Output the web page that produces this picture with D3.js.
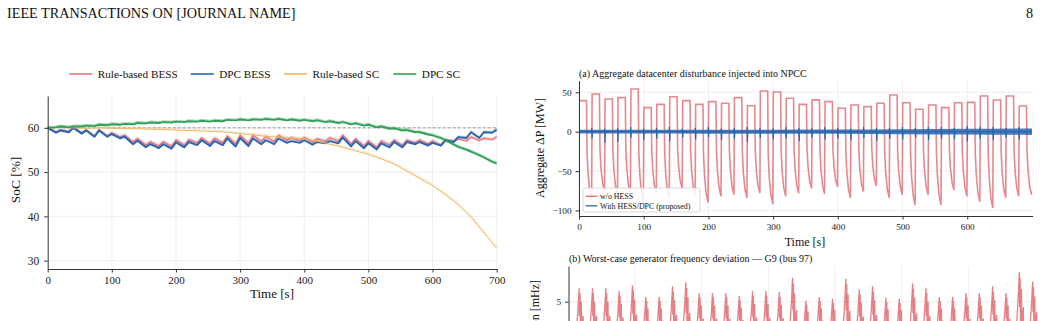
<!DOCTYPE html>
<html>
<head>
<meta charset="utf-8">
<script src="https://cdn.jsdelivr.net/npm/d3@7"></script>
<style>
body { margin: 0; background: #fff; }
svg { display: block; font-family: "Liberation Serif", "Times New Roman", serif; }
.grid line { stroke: #ebebeb; stroke-width: 0.8; }
.axis path, .axis line { stroke: #333; stroke-width: 1; }
.axis text { fill: #222; font-family: "Liberation Serif", "Times New Roman", serif; }
</style>
</head>
<body>
<svg id="fig" width="1041" height="321"></svg>
<script>
// ---------- left panel: SoC of the storage units ----------
const socNames = ["Rule-based BESS", "DPC BESS", "Rule-based SC", "DPC SC"];
const socColors = ["#e8777d", "#2a66b0", "#f2b55a", "#2fa257"];
const socTicksX = [0, 100, 200, 300, 400, 500, 600, 700];
const socTicksY = [30, 40, 50, 60];

// values at the start of each 20 s cycle (t = 0,20,...,700) and at its low point (t = 13,33,...,693)
const ruleBessPeak = [60, 59.4, 60, 59.4, 59.4, 58.8, 58.3, 57.5, 56.8, 56.8, 57.2, 57.3, 57.7, 57.6, 58.1, 58.3, 58.3, 58.0,
  58.3, 57.7, 57.8, 57.5, 57.7, 58.3, 57.5, 57.0, 57.0, 57.2, 57.2, 57.2, 57.0, 57.0, 57.5, 57.9, 57.6, 57.9];
const ruleBessLow = [58.9, 59.0, 58.7, 58.0, 58.1, 57.9, 56.8, 56.1, 55.9, 55.8, 56.1, 56.6, 56.4, 56.6, 56.4, 56.5, 56.9, 56.9,
  57.2, 57.1, 56.8, 57.0, 57.0, 56.3, 55.9, 55.6, 56.1, 56.0, 56.6, 56.3, 56.0, 56.9, 57.0, 57.1, 57.3];
const dpcBessPeak = [60, 59.4, 60, 59.4, 59.4, 58.6, 58.0, 57.1, 56.3, 56.3, 56.7, 56.8, 57.2, 57.0, 57.6, 57.7, 57.6, 57.2,
  57.6, 57.0, 57.2, 56.8, 57.0, 57.8, 57.0, 56.5, 56.5, 56.8, 56.8, 56.8, 56.6, 57.2, 57.9, 59.0, 59.0, 59.6];
const dpcBessLow = [58.9, 59.0, 58.7, 58.0, 58.0, 57.6, 56.3, 55.6, 55.4, 55.3, 55.6, 56.1, 55.9, 56.1, 55.8, 55.9, 56.3, 56.3,
  56.6, 56.6, 56.2, 56.5, 56.5, 55.8, 55.4, 55.1, 55.6, 55.6, 56.3, 56.0, 56.0, 56.8, 57.7, 57.7, 58.9];
const ruleScPeak = [60.0, 60.1, 60.0, 59.9, 60.0, 59.9, 59.8, 59.8, 59.7, 59.6, 59.5, 59.4, 59.3, 59.2, 59.0, 58.7, 58.4, 58.1,
  57.9, 57.7, 57.5, 57.0, 56.3, 55.6, 54.8, 54.0, 53.0, 51.8, 50.2, 48.6, 46.9, 44.9, 42.6, 39.8, 36.3, 32.8];
const dpcScPeak = [60.0, 60.3, 60.3, 60.5, 60.7, 60.8, 60.9, 61.1, 61.2, 61.3, 61.4, 61.5, 61.6, 61.6, 61.8, 61.9, 61.9, 62.0,
  62.0, 61.9, 61.8, 61.7, 61.5, 61.3, 61.0, 60.7, 60.3, 59.9, 59.5, 59.0, 58.3, 57.2, 55.7, 54.6, 53.3, 51.9];
const dpcScLow = [60.1, 60.1, 60.3, 60.4, 60.6, 60.7, 60.8, 61.0, 61.1, 61.2, 61.3, 61.4, 61.4, 61.5, 61.7, 61.7, 61.8, 61.8,
  61.7, 61.6, 61.5, 61.3, 61.1, 60.8, 60.5, 60.1, 59.8, 59.4, 59.0, 58.5, 57.7, 56.2, 55.0, 53.8, 52.3];
const socRef = 60;

// ---------- right panel (a): aggregate disturbance ----------
const pulseTop = [39.4, 47.8, 41.4, 43.2, 54.2, 30.5, 34.7, 44.4, 39.4, 34.7, 38.1, 36.0, 43.2, 33.0, 51.6, 50.4,
  42.4, 34.7, 40.4, 38.1, 29.7, 33.9, 31.8, 36.0, 46.6, 36.8, 28.4, 33.9, 30.5, 36.8, 37.2, 45.3, 40.2, 45.3, 32.6];
const pulseLow = [-86, -75, -80, -78, -88, -78, -85, -72, -80, -90, -82, -80, -84, -78, -92, -82, -78, -72,
  -79, -70, -84, -76, -69, -84, -80, -93, -80, -93, -74, -82, -89, -97, -84, -82, -80];
const hessDip = [-9, -14, -13, -8, -11, -9, -12, -8, -10, -7, -11, -9, -13, -8, -10, -9, -12,
  -8, -10, -9, -11, -8, -12, -9, -10, -8, -11, -9, -10, -12, -9, -11, -8, -10];
const hessBump = [5, 4, 5, 6, 4, 5, 6, 4, 5, 6, 4, 5, 6, 5, 4, 6, 5, 5, 6, 5, 4, 6, 5, 5, 6, 5, 6, 6, 5, 7, 6, 6, 5, 6];
const hessNoiseT = [0, 100, 200, 300, 400, 500, 600, 700];
const hessNoise = [2.4, 2.4, 2.5, 2.6, 2.7, 3.1, 3.6, 4.1];
const aTicksX = [0, 100, 200, 300, 400, 500, 600];
const aTicksY = [-100, -50, 0, 50];

// ---------- right panel (b): frequency deviation ----------
const burstPeak = [6.4, 6.4, 6.4, 6.1, 6.7, 5.5, 5.5, 6.6, 7.0, 5.9, 5.9, 5.9, 5.6, 6.1, 6.1, 6.0, 7.5, 5.1,
  5.5, 5.3, 7.4, 6.3, 6.6, 5.4, 5.3, 6.9, 6.4, 5.5, 5.5, 5.9, 5.9, 6.6, 5.9, 8.1, 7.1];
const bTicksX = [100, 200, 300, 400, 500, 600];

const svg = d3.select("#fig");

// page header
svg.append("text").attr("x", 7).attr("y", 18).attr("font-size", 14.2).attr("fill", "#111")
  .text("IEEE TRANSACTIONS ON [JOURNAL NAME]");
svg.append("text").attr("x", 1033).attr("y", 18).attr("font-size", 14.2).attr("fill", "#111")
  .attr("text-anchor", "end").text("8");

// ===== left chart =====
const xL = d3.scaleLinear([0, 700], [47.7, 496.7]);
const yL = d3.scaleLinear([28.1, 67.2], [269, 96]);
const gL = svg.append("g");

gL.append("g").attr("class", "grid").selectAll("line").data(socTicksX.slice(1)).join("line")
  .attr("x1", d => xL(d)).attr("x2", d => xL(d)).attr("y1", yL.range()[0]).attr("y2", yL.range()[1]);
gL.append("g").attr("class", "grid").selectAll("line").data(socTicksY).join("line")
  .attr("x1", xL.range()[0]).attr("x2", xL.range()[1]).attr("y1", d => yL(d)).attr("y2", d => yL(d));

gL.append("line").attr("x1", xL(0)).attr("x2", xL(700)).attr("y1", yL(socRef)).attr("y2", yL(socRef))
  .attr("stroke", "#8a8a8a").attr("stroke-width", 0.9).attr("stroke-dasharray", "3,2");

function zigzag(peaks, lows) {
  const pts = [];
  peaks.forEach((p, k) => {
    pts.push([20 * k, p]);
    if (k < lows.length) pts.push([20 * k + 13, lows[k]]);
  });
  return pts;
}
const socSeries = [
  zigzag(ruleBessPeak, ruleBessLow),
  zigzag(dpcBessPeak, dpcBessLow),
  ruleScPeak.map((v, k) => [20 * k, v]),
  zigzag(dpcScPeak, dpcScLow)
];
const socWidth = [1.5, 1.9, 1.0, 1.9];
const haloOpacity = [0.4, 0.3, 0.25, 0.4];
const lineL = d3.line().x(d => xL(d[0])).y(d => yL(d[1]));

socSeries.forEach((s, i) => {
  // faint companion trace
  gL.append("path").attr("d", lineL(s)).attr("fill", "none").attr("stroke", socColors[i])
    .attr("stroke-width", 1.3).attr("opacity", haloOpacity[i]).attr("transform", "translate(0,-1.3)");
  gL.append("path").attr("d", lineL(s)).attr("fill", "none").attr("stroke", socColors[i])
    .attr("stroke-width", socWidth[i]).attr("stroke-linejoin", "round");
});

const axXL = gL.append("g").attr("class", "axis").attr("transform", `translate(0,${yL.range()[0]})`)
  .call(d3.axisBottom(xL).tickValues(socTicksX).tickSize(3.5).tickSizeOuter(0).tickPadding(4));
axXL.selectAll("text").attr("font-size", 11);
const axYL = gL.append("g").attr("class", "axis").attr("transform", `translate(${xL.range()[0]},0)`)
  .call(d3.axisLeft(yL).tickValues(socTicksY).tickSize(3.5).tickSizeOuter(0).tickPadding(5));
axYL.selectAll("text").attr("font-size", 11.5);

gL.append("text").attr("x", 272).attr("y", 297.5).attr("text-anchor", "middle").attr("font-size", 13)
  .attr("fill", "#111").text("Time [s]");
gL.append("text").attr("transform", "translate(20,180) rotate(-90)").attr("text-anchor", "middle")
  .attr("font-size", 13.4).attr("fill", "#111").text("SoC [%]");

// legend on top
const legX = [69.3, 190.7, 284, 393.3];
socNames.forEach((n, i) => {
  gL.append("line").attr("x1", legX[i]).attr("x2", legX[i] + 23).attr("y1", 74).attr("y2", 74)
    .attr("stroke", socColors[i]).attr("stroke-width", 1.6);
  gL.append("text").attr("x", legX[i] + 28.5).attr("y", 78.2).attr("font-size", 11.2).attr("fill", "#111").text(n);
});

// ===== right chart (a) =====
const xA = d3.scaleLinear([0, 701], [579, 1032.6]);
const yA = d3.scaleLinear([-107, 64.7], [216, 80.7]);
const gA = svg.append("g");

gA.append("g").attr("class", "grid").selectAll("line").data(aTicksX).join("line")
  .attr("x1", d => xA(d)).attr("x2", d => xA(d)).attr("y1", yA.range()[0]).attr("y2", yA.range()[1]);
gA.append("g").attr("class", "grid").selectAll("line").data(aTicksY).join("line")
  .attr("x1", xA.range()[0]).attr("x2", xA.range()[1]).attr("y1", d => yA(d)).attr("y2", d => yA(d));

// w/o HESS: plateau, fast drop, decay to the low, snap back
const dropShape = [[12.4, 0.3], [14, 0.62], [16.5, 0.87], [19.5, 1]];
const redPts = [];
pulseTop.forEach((top, k) => {
  const t0 = 20 * k;
  redPts.push([k === 0 ? 0 : t0 + 0.3, top], [t0 + 11.6, top]);
  dropShape.forEach(([dt, f]) => redPts.push([t0 + dt, f * pulseLow[k]]));
});
const lineA = d3.line().x(d => xA(d[0])).y(d => yA(d[1]));
gA.append("path").attr("d", lineA(redPts)).attr("fill", "none").attr("stroke", "#e06a70")
  .attr("stroke-width", 1.6).attr("opacity", 0.8);

// with HESS/DPC: noise band + spikes at each cycle edge
const band = d3.area().x((d, i) => xA(hessNoiseT[i])).y0(d => yA(-d)).y1(d => yA(d)).curve(d3.curveMonotoneX);
gA.append("path").attr("d", band(hessNoise)).attr("fill", "#2d69b0").attr("opacity", 0.88);
const bluePts = [[0, 0]];
hessDip.forEach((d, k) => {
  const t0 = 20 * (k + 1);
  bluePts.push([t0 - 0.6, 0], [t0 - 0.25, hessBump[k]], [t0 + 0.25, d], [t0 + 0.7, 0]);
});
bluePts.push([700, 0]);
gA.append("path").attr("d", lineA(bluePts)).attr("fill", "none").attr("stroke", "#2a66b0")
  .attr("stroke-width", 1.2);

const axXA = gA.append("g").attr("class", "axis").attr("transform", `translate(0,${yA.range()[0]})`)
  .call(d3.axisBottom(xA).tickValues(aTicksX).tickSize(3.5).tickSizeOuter(0).tickPadding(4));
axXA.selectAll("text").attr("font-size", 9.2);
const axYA = gA.append("g").attr("class", "axis").attr("transform", `translate(${xA.range()[0]},0)`)
  .call(d3.axisLeft(yA).tickValues(aTicksY).tickSize(3.5).tickSizeOuter(0).tickPadding(4));
axYA.selectAll("text").attr("font-size", 9.2);

gA.append("text").attr("x", 579).attr("y", 77).attr("font-size", 10).attr("fill", "#111")
  .text("(a) Aggregate datacenter disturbance injected into NPCC");
gA.append("text").attr("x", 805).attr("y", 246).attr("text-anchor", "middle").attr("font-size", 12)
  .attr("fill", "#111").text("Time [s]");
gA.append("text").attr("transform", "translate(544,148) rotate(-90)").attr("text-anchor", "middle")
  .attr("font-size", 12).attr("fill", "#111").text("Aggregate ΔP [MW]");

// legend box
const lg = gA.append("g");
lg.append("rect").attr("x", 583).attr("y", 188).attr("width", 117).attr("height", 24).attr("rx", 2)
  .attr("fill", "#fff").attr("fill-opacity", 0.85).attr("stroke", "#cfcfcf").attr("stroke-width", 0.8);
[["w/o HESS", "#e06a70", 196.3], ["With HESS/DPC (proposed)", "#2a66b0", 205.8]].forEach(([n, c, y]) => {
  lg.append("line").attr("x1", 585.7).attr("x2", 597.3).attr("y1", y).attr("y2", y)
    .attr("stroke", c).attr("stroke-width", 1.3);
  lg.append("text").attr("x", 600).attr("y", y + 2.8).attr("font-size", 7.9).attr("fill", "#111").text(n);
});

// ===== right chart (b) =====
const xB = d3.scaleLinear([0, 701], [568.5, 1036]);
const yB = d3.scaleLinear([0, 8.72], [349.7, 266]);
const gB = svg.append("g");

gB.append("g").attr("class", "grid").selectAll("line").data(bTicksX).join("line")
  .attr("x1", d => xB(d)).attr("x2", d => xB(d)).attr("y1", 330).attr("y2", yB.range()[1]);
gB.append("line").attr("x1", xB.range()[0]).attr("x2", xB.range()[1])
  .attr("y1", yB(5)).attr("y2", yB(5)).attr("stroke", "#ebebeb").attr("stroke-width", 0.8);

const burstShape = [[-6, 0.2], [-3, 0.62], [-1, 1.0], [-0.6, 0.55], [0.3, 0.92], [0.8, 0.35],
  [2.2, 0.78], [2.7, 0.3], [5, 0.55], [5.4, 0.2], [9, 0.25]];
const fPts = [[0, 0.5]];
burstPeak.forEach((p, k) => {
  const tp = 20 * (k + 1) - 3;
  burstShape.forEach(([dt, f]) => fPts.push([tp + dt, f * p]));
});
const lineB = d3.line().x(d => xB(d[0])).y(d => yB(d[1]));
gB.append("path").attr("d", lineB(fPts)).attr("fill", "none").attr("stroke", "#e06a70")
  .attr("stroke-width", 1.3).attr("opacity", 0.85);

const axYB = gB.append("g").attr("class", "axis").attr("transform", `translate(${xB.range()[0]},0)`)
  .call(d3.axisLeft(yB).tickValues([5]).tickSize(3.5).tickSizeOuter(0).tickPadding(4));
axYB.selectAll("text").attr("font-size", 9.2);

gB.append("text").attr("x", 569).attr("y", 262).attr("font-size", 10).attr("fill", "#111")
  .text("(b) Worst-case generator frequency deviation — G9 (bus 97)");
// the figure is cropped at the bottom, so only the top end of this label shows (as in the source)
gB.append("text").attr("transform", "translate(539,280) rotate(-90)").attr("text-anchor", "end")
  .attr("font-size", 12).attr("fill", "#111").text("Frequency deviation [mHz]");
</script>
</body>
</html>
